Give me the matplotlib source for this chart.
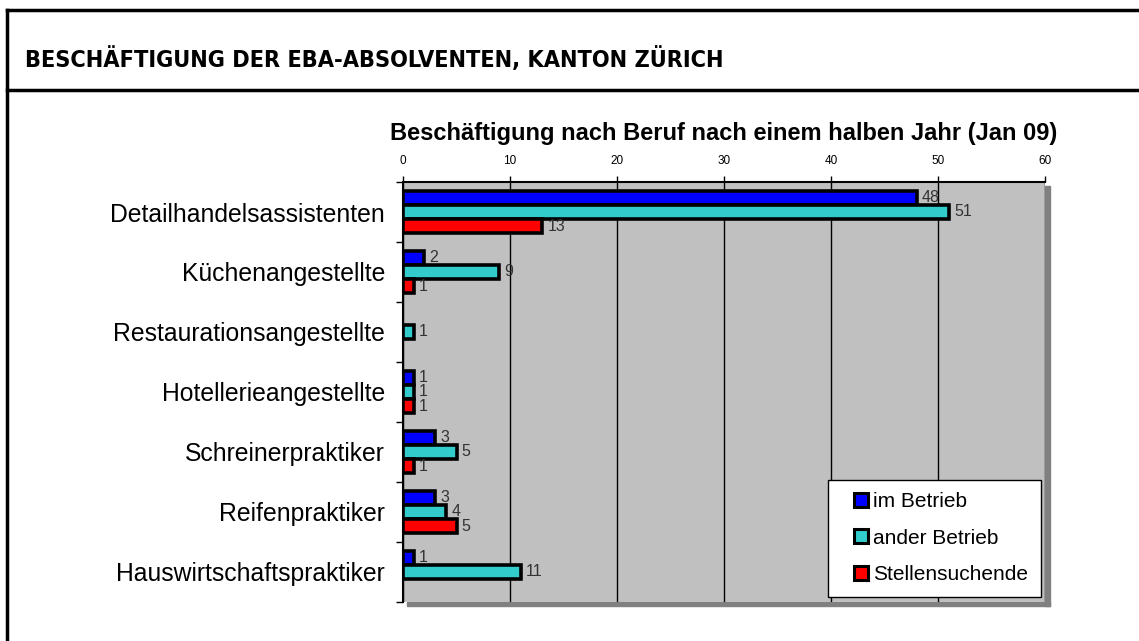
import matplotlib as mpl
import matplotlib.pyplot as plt
import numpy as np
from matplotlib.patches import Rectangle
from matplotlib.lines import Line2D

mpl.rcParams['font.family'] = ['Liberation Sans', 'DejaVu Sans']

categories = ['Detailhandelsassistenten', 'Küchenangestellte', 'Restaurationsangestellte',
              'Hotellerieangestellte', 'Schreinerpraktiker', 'Reifenpraktiker',
              'Hauswirtschaftspraktiker']
im_betrieb = [48, 2, 0, 1, 3, 3, 1]
ander_betrieb = [51, 9, 1, 1, 5, 4, 11]
stellensuchende = [13, 1, 0, 1, 1, 5, 0]
series_names = ['im Betrieb', 'ander Betrieb', 'Stellensuchende']
colors = ['#0000FF', '#33CCCC', '#FF0000']
x_ticks = [0, 10, 20, 30, 40, 50, 60]

fig = plt.figure(figsize=(11.39, 6.41), dpi=100)

# outer frame + header line
fig.add_artist(Line2D([7/1139, 7/1139], [0, 1 - 10/641], color='black', lw=2.5))
fig.add_artist(Line2D([7/1139, 1], [1 - 10/641, 1 - 10/641], color='black', lw=2.5))
fig.add_artist(Line2D([7/1139, 1], [1 - 90/641, 1 - 90/641], color='black', lw=2.5))
fig.text(25/1139, 1 - 60/641, 'BESCHÄFTIGUNG DER EBA-ABSOLVENTEN, KANTON ZÜRICH',
         fontsize=16.8, fontweight='bold', family='DejaVu Sans', fontstretch='condensed',
         va='center', ha='left')

ax = fig.add_axes([403/1139, 1 - 602/641, 642/1139, 420/641])
ax.set_facecolor('#C0C0C0')

# shadow right/bottom of plot area
fig.add_artist(Rectangle((1045/1139, 1 - 606/641), 5/1139, 420/641,
                         color='#808080', zorder=0))
fig.add_artist(Rectangle((407/1139, 1 - 606/641), 643/1139, 4/641,
                         color='#808080', zorder=0))

y = np.arange(len(categories)) + 0.5
h = 0.235
for k, (vals, col) in enumerate(zip([im_betrieb, ander_betrieb, stellensuchende], colors)):
    pos = y + (k - 1) * h
    for yi, v in zip(pos, vals):
        if v == 0:
            continue
        ax.barh(yi, v, height=h, color=col, edgecolor='black', linewidth=2.6, zorder=3)
        ax.text(v + 0.5, yi, str(v), va='center', ha='left', fontsize=11.5,
                color='#333333', zorder=4)

ax.set_xlim(0, 60)
ax.set_ylim(len(categories), 0)
ax.xaxis.tick_top()
ax.set_xticks(x_ticks)
ax.set_xticklabels([str(t) for t in x_ticks], fontsize=8.5)
ax.tick_params(axis='x', length=4, width=1, pad=7)
ax.set_yticks(np.arange(len(categories) + 1))
ax.set_yticklabels([])
ax.tick_params(axis='y', length=5, width=1)
ax.set_yticks(y, minor=True)
ax.set_yticklabels(categories, minor=True, fontsize=17.8)
ax.tick_params(axis='y', which='minor', length=0, pad=13)
ax.grid(axis='x', color='black', linewidth=1, zorder=1)
ax.set_axisbelow(True)
for s in ['right', 'bottom']:
    ax.spines[s].set_visible(False)
ax.spines['left'].set_linewidth(1.5)
ax.spines['top'].set_linewidth(1.5)

ax.set_title('Beschäftigung nach Beruf nach einem halben Jahr (Jan 09)',
             fontsize=17, fontweight='bold', pad=30)

handles = [Line2D([], [], marker='s', linestyle='none', markersize=10,
                  markerfacecolor=c, markeredgecolor='black', markeredgewidth=2.2)
           for c in colors]
leg = ax.legend(handles, series_names, loc='lower right', bbox_to_anchor=(0.993, 0.012),
                fontsize=15, frameon=True, fancybox=False, framealpha=1,
                handlelength=1.9, handletextpad=-0.35,
                labelspacing=0.85, borderpad=0.6, borderaxespad=0)
leg.get_frame().set_edgecolor('black')
leg.get_frame().set_linewidth(1)
leg.set_zorder(10)

fig.savefig('out.png', dpi=100)
